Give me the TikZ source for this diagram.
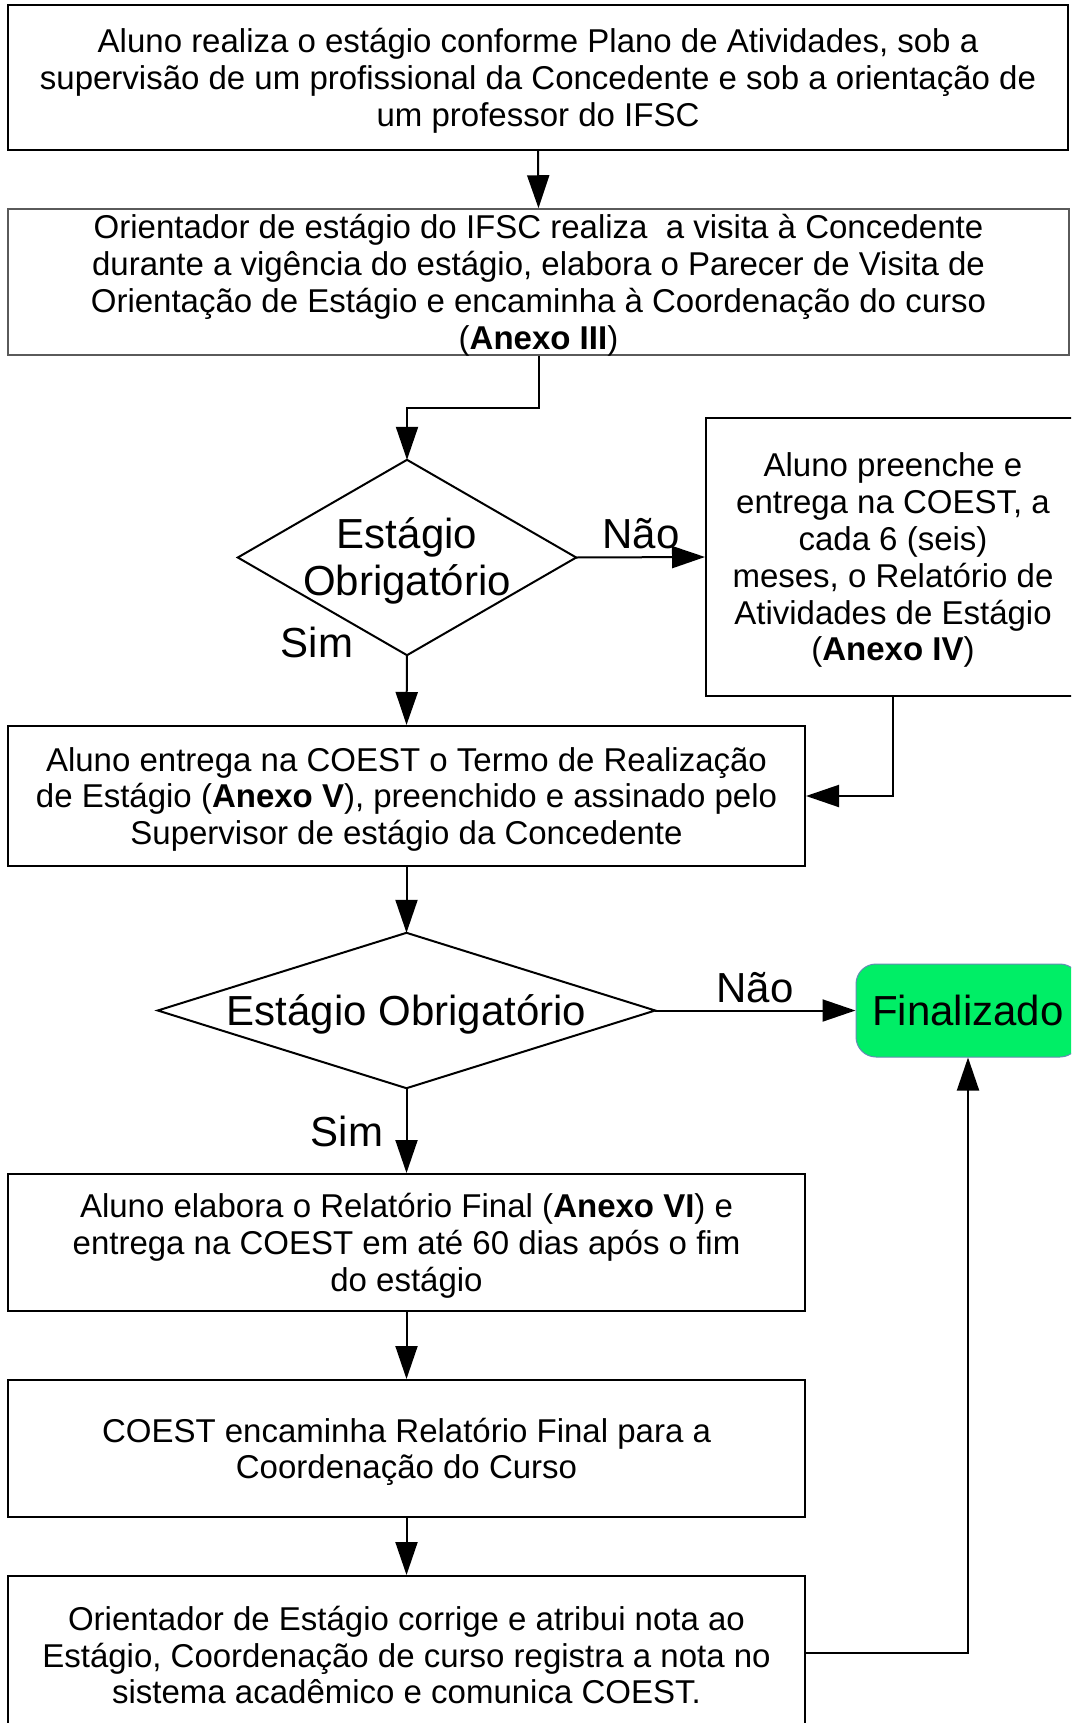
\documentclass[tikz,border=0pt]{standalone}
\usepackage{fontspec}
\setmainfont{Liberation Sans}
\usetikzlibrary{arrows.meta,calc}
\definecolor{fingreen}{RGB}{0,238,102}
\definecolor{finborder}{RGB}{100,140,180}
\tikzset{
  procbox/.style={draw=black, line width=2pt, inner sep=0pt},
  graybox/.style={procbox, draw={rgb,255:red,90;green,90;blue,90}, line width=1.5pt},
  boxtext/.style={align=center, inner sep=0pt, font=\fontsize{33}{36.8}\selectfont},
  decision/.style={inner sep=0pt},
  dtext/.style={inner sep=0pt, align=center, font=\fontsize{42}{47.7}\selectfont},
  lbl/.style={inner sep=0pt, anchor=base, font=\fontsize{42}{47.7}\selectfont},
  dshape/.style={draw=black, line width=2pt, line join=miter},
  conn/.style={draw=black, line width=2pt, -{Triangle[length=33pt,width=22pt]}},
}
\begin{document}
\begin{tikzpicture}[x=1pt,y=-1pt]
\useasboundingbox (0,0) rectangle (1071,1723);
\clip (0,0) rectangle (1071,1723);
\fill[white] (0,0) rectangle (1071,1723);

% boxes
\node[procbox, minimum width=1060pt, minimum height=145pt] (b1) at (538,77.5) {};
\node[boxtext] (t1) at ($(b1.center)+(0,3.3)$)
 {Aluno realiza o estágio conforme Plano de Atividades, sob a\\supervisão de um profissional da Concedente e sob a orientação de\\um professor do IFSC};
\node[graybox, minimum width=1061pt, minimum height=146pt] (b2) at (538.5,282) {};
\node[boxtext] (t2) at ($(b2.center)+(0,3.3)$)
 {Orientador de estágio do IFSC realiza\ \ a visita à Concedente\\durante a vigência do estágio, elabora o Parecer de Visita de\\Orientação de Estágio e encaminha à Coordenação do curso\\(\textbf{Anexo III})};
\node[decision, minimum width=338pt, minimum height=195pt] (d1) at (407,557.5) {};
\draw[dshape] (d1.north) -- (d1.east) -- (d1.south) -- (d1.west) -- cycle;
\node[dtext] (td1) at ($(d1.center)+(0,3.3)$) {Estágio\\Obrigatório};
\node[procbox, minimum width=374pt, minimum height=278pt] (b3) at (893,557) {};
\node[boxtext] (t3) at ($(b3.center)+(0,3.3)$)
 {Aluno preenche e\\entrega na COEST, a\\cada 6 (seis)\\meses, o Relatório de\\Atividades de Estágio\\(\textbf{Anexo IV})};
\node[procbox, minimum width=797pt, minimum height=140pt] (b4) at (406.5,796) {};
\node[boxtext] (t4) at ($(b4.center)+(0,3.3)$)
 {Aluno entrega na COEST o Termo de Realização\\de Estágio (\textbf{Anexo V}), preenchido e assinado pelo\\Supervisor de estágio da Concedente};
\node[decision, minimum width=497pt, minimum height=155pt] (d2) at (406.5,1010.5) {};
\draw[dshape] (d2.north) -- (d2.east) -- (d2.south) -- (d2.west) -- cycle;
\node[dtext] (td2) at ($(d2.center)+(0,4)$) {Estágio Obrigatório};
\node[draw=finborder, line width=1pt, fill=fingreen, rounded corners=20pt,
  minimum width=224pt, minimum height=93pt, inner sep=0pt,
  font=\fontsize{42}{47.7}\selectfont] (fin) at (968,1010.5) {Finalizado};
\node[procbox, minimum width=797pt, minimum height=137pt] (b5) at (406.5,1242.5) {};
\node[boxtext] (t5) at ($(b5.center)+(0,3.3)$)
 {Aluno elabora o Relatório Final (\textbf{Anexo VI}) e\\entrega na COEST em até 60 dias após o fim\\do estágio};
\node[procbox, minimum width=797pt, minimum height=137pt] (b6) at (406.5,1448.5) {};
\node[boxtext] (t6) at ($(b6.center)+(0,3.3)$)
 {COEST encaminha Relatório Final para a\\Coordenação do Curso};
\node[procbox, minimum width=797pt, minimum height=154pt] (b7) at (406.5,1653) {};
\node[boxtext] (t7) at ($(b7.center)+(0,2)$)
 {Orientador de Estágio corrige e atribui nota ao\\Estágio, Coordenação de curso registra a nota no\\sistema acadêmico e comunica COEST.};

% labels
\node[lbl] (nao1) at (641,548) {Não};
\node[lbl] (sim1) at (317,657) {Sim};
\node[lbl] (nao2) at (755,1002) {Não};
\node[lbl] (sim2) at (347,1146) {Sim};

% connectors
\draw[conn] (b1.south) -- (b2.north);
\draw[conn] (b2.south) -- ++(0,52) -| (d1.north);
\draw[conn] (d1.east) -- (b3.west);
\draw[conn] (d1.south) -- (b4.north);
\draw[conn] (b3.south) |- (b4.east);
\draw[conn] (b4.south) -- (d2.north);
\draw[conn] (d2.east) -- (fin.west);
\draw[conn] (d2.south) -- (b5.north);
\draw[conn] (b5.south) -- (b6.north);
\draw[conn] (b6.south) -- (b7.north);
\draw[conn] (b7.east) -| (fin.south);
\end{tikzpicture}
\end{document}
